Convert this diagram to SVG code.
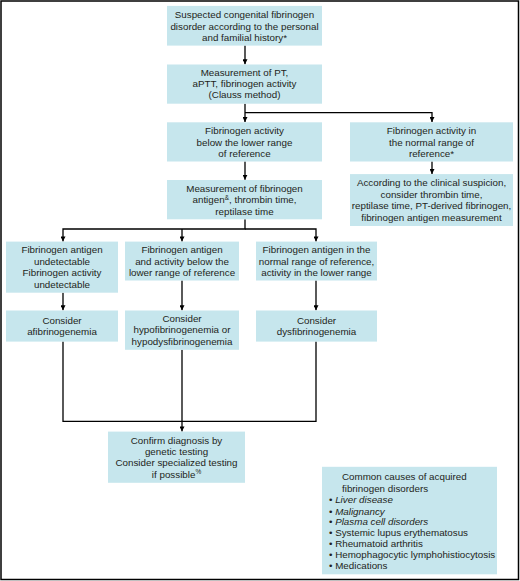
<svg xmlns="http://www.w3.org/2000/svg" width="520" height="581" viewBox="0 0 520 581">
<defs>
<style>
.box{fill:#c6e6ed;}
text{font-family:"Liberation Sans",Arial,sans-serif;font-size:9.8px;fill:#231f20;}
.c{text-anchor:middle;}
.con{fill:none;stroke:#000;stroke-width:1.3;}
.sup{font-size:6.5px;}
</style>
<marker id="ah" viewBox="0 0 10 10" refX="10" refY="5" markerWidth="5" markerHeight="5" markerUnits="userSpaceOnUse" orient="auto">
<path d="M0,0 L10,5 L0,10 Z" fill="#000"/>
</marker>
</defs>
<rect x="0" y="0" width="520" height="581" fill="#fff"/>
<rect x="1" y="1" width="517.5" height="578.5" fill="none" stroke="#000" stroke-width="1.5"/>

<g id="connectors">
<path class="con" d="M245,45.6 V64.3" marker-end="url(#ah)"/>
<path class="con" d="M245,103.7 V122.1" marker-end="url(#ah)"/>
<path class="con" d="M245,112.6 H432 V122.1" marker-end="url(#ah)"/>
<path class="con" d="M245,161.5 V179.8" marker-end="url(#ah)"/>
<path class="con" d="M432,161.5 V174" marker-end="url(#ah)"/>
<path class="con" d="M245,219.3 V229 H63 V241.4" marker-end="url(#ah)"/>
<path class="con" d="M182,229 V241.4" marker-end="url(#ah)"/>
<path class="con" d="M245,229 H316 V241.4" marker-end="url(#ah)"/>
<path class="con" d="M63,292.7 V310.3" marker-end="url(#ah)"/>
<path class="con" d="M182,280.5 V310.3" marker-end="url(#ah)"/>
<path class="con" d="M316,280.5 V310.3" marker-end="url(#ah)"/>
<path class="con" d="M63,341.6 V421.3 H316 V341.6"/>
<path class="con" d="M182,349.8 V431.4" marker-end="url(#ah)"/>
</g>

<g id="n1">
<rect class="box" x="167" y="5.9" width="155" height="39.7"/>
<text class="c" x="244.5" y="18">Suspected congenital fibrinogen</text>
<text class="c" x="244.5" y="29.5">disorder according to the personal</text>
<text class="c" x="244.5" y="40.7">and familial history*</text>
</g>
<g id="n2">
<rect class="box" x="167" y="64.5" width="155" height="39.2"/>
<text class="c" x="244.5" y="75.5">Measurement of PT,</text>
<text class="c" x="244.5" y="87">aPTT, fibrinogen activity</text>
<text class="c" x="244.5" y="98.4">(Clauss method)</text>
</g>
<g id="n3">
<rect class="box" x="167" y="122.3" width="155" height="39.2"/>
<text class="c" x="244.5" y="134">Fibrinogen activity</text>
<text class="c" x="244.5" y="145.5">below the lower range</text>
<text class="c" x="244.5" y="156.6">of reference</text>
</g>
<g id="n4">
<rect class="box" x="350" y="122.3" width="163" height="39.2"/>
<text class="c" x="431.5" y="134">Fibrinogen activity in</text>
<text class="c" x="431.5" y="145.5">the normal range of</text>
<text class="c" x="431.5" y="156.6">reference*</text>
</g>
<g id="n5">
<rect class="box" x="167" y="180" width="155" height="39.3"/>
<text class="c" x="244.5" y="191.8">Measurement of fibrinogen</text>
<text class="c" x="244.5" y="203.3">antigen<tspan class="sup" dy="-3.5">&amp;</tspan><tspan dy="3.5">, thrombin time,</tspan></text>
<text class="c" x="244.5" y="214.8">reptilase time</text>
</g>
<g id="n6">
<rect class="box" x="350" y="174.1" width="163" height="51.9"/>
<text class="c" x="431.5" y="186.3">According to the clinical suspicion,</text>
<text class="c" x="431.5" y="197.7">consider thrombin time,</text>
<text class="c" x="431.5" y="209.2">reptilase time, PT-derived fibrinogen,</text>
<text class="c" x="431.5" y="220.7">fibrinogen antigen measurement</text>
</g>
<g id="n7">
<rect class="box" x="6" y="241.6" width="112" height="51.1"/>
<text class="c" x="62" y="253.3">Fibrinogen antigen</text>
<text class="c" x="62" y="264.8">undetectable</text>
<text class="c" x="62" y="276.3">Fibrinogen activity</text>
<text class="c" x="62" y="287.8">undetectable</text>
</g>
<g id="n8">
<rect class="box" x="125" y="241.6" width="114" height="38.9"/>
<text class="c" x="182" y="253.3">Fibrinogen antigen</text>
<text class="c" x="182" y="264.8">and activity below the</text>
<text class="c" x="182" y="276.3">lower range of reference</text>
</g>
<g id="n9">
<rect class="box" x="256" y="241.6" width="121" height="38.9"/>
<text class="c" x="316.5" y="253.3">Fibrinogen antigen in the</text>
<text class="c" x="316.5" y="264.8">normal range of reference,</text>
<text class="c" x="316.5" y="276.3">activity in the lower range</text>
</g>
<g id="n10">
<rect class="box" x="6" y="310.5" width="112" height="31.1"/>
<text class="c" x="62" y="323.7">Consider</text>
<text class="c" x="62" y="334.8">afibrinogenemia</text>
</g>
<g id="n11">
<rect class="box" x="125" y="310.5" width="114" height="39.3"/>
<text class="c" x="182" y="321.9">Consider</text>
<text class="c" x="182" y="333.3">hypofibrinogenemia or</text>
<text class="c" x="182" y="344.8">hypodysfibrinogenemia</text>
</g>
<g id="n12">
<rect class="box" x="256" y="310.5" width="121" height="31.1"/>
<text class="c" x="316.5" y="323.7">Consider</text>
<text class="c" x="316.5" y="334.8">dysfibrinogenemia</text>
</g>
<g id="n13">
<rect class="box" x="108" y="431.6" width="137" height="51.2"/>
<text class="c" x="176.5" y="443.8">Confirm diagnosis by</text>
<text class="c" x="176.5" y="454.9">genetic testing</text>
<text class="c" x="176.5" y="466.4">Consider specialized testing</text>
<text class="c" x="176.5" y="477.9">if possible<tspan class="sup" dy="-3.5">%</tspan></text>
</g>
<g id="n14">
<rect class="box" x="322" y="466.8" width="175" height="107.5"/>
<text x="342" y="480.4">Common causes of acquired</text>
<text x="342" y="491.9">fibrinogen disorders</text>
<text x="329" y="503.4">• <tspan font-style="italic">Liver disease</tspan></text>
<text x="329" y="514.5">• <tspan font-style="italic">Malignancy</tspan></text>
<text x="329" y="525.3">• <tspan font-style="italic">Plasma cell disorders</tspan></text>
<text x="329" y="536">• Systemic lupus erythematosus</text>
<text x="329" y="546.8">• Rheumatoid arthritis</text>
<text x="329" y="557.5">• Hemophagocytic lymphohistiocytosis</text>
<text x="329" y="568.6">• Medications</text>
</g>
</svg>
